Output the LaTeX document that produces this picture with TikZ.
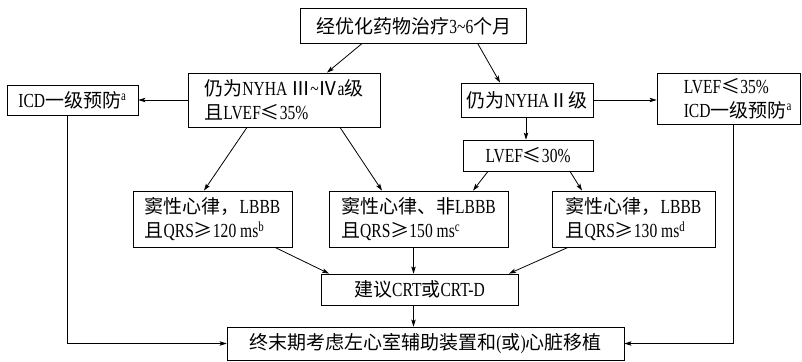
\documentclass[tikz,border=0pt]{standalone}
\usepackage{fontspec}
\setmainfont{Liberation Serif}[FakeStretch=0.78,Scale=1.05]
\newfontfamily\cjk{Noto Sans CJK SC}
\newcommand\zh[1]{{\cjk #1}}
\usetikzlibrary{arrows.meta}
\begin{document}
\begin{tikzpicture}[x=1pt,y={(0pt,-1pt)},
  txt/.style={inner sep=0pt, align=left, font=\fontsize{19pt}{24pt}\selectfont},
  box/.style={txt, draw, line width=0.8pt},
  arr/.style={line width=0.8pt, -{Stealth[length=7pt,width=4.5pt,inset=1.5pt]}},
  ln/.style={line width=0.8pt}]
\useasboundingbox (0,0) rectangle (802,361);
\node[box, minimum width=226pt, minimum height=35pt] (top) at (413.8,25.8)
  {\zh{经优化药物治疗}3\textasciitilde6\zh{个月}};
\node[box, minimum width=192pt, minimum height=54pt] (n3) at (284,100)
  {\zh{仍为}NYHA \zh{Ⅲ}\textasciitilde\zh{Ⅳ}a\zh{级}\\\zh{且}LVEF\zh{≤}35\%};
\node[box, minimum width=131pt, minimum height=30pt] (icdL) at (72.5,100)
  {ICD\zh{一级预防}\textsuperscript{a}};
\node[box, minimum width=132pt, minimum height=34pt] (n2) at (527,100)
  {\zh{仍为}NYHA\zh{Ⅱ}\zh{级}};
\node[box, minimum width=143pt, minimum height=51pt] (right) at (728.5,98.5) {};
\node[txt, anchor=west] (rightTxt) at ([xshift=27pt]right.west)
  {LVEF\zh{≤}35\%\\ICD\zh{一级预防}\textsuperscript{a}};
\node[box, minimum width=130pt, minimum height=31pt] (lv30) at (528,155.5)
  {LVEF\zh{≤}30\%};
\node[box, minimum width=159pt, minimum height=56pt] (bL) at (212.5,219)
  {\zh{窦性心律，}LBBB\\\zh{且}QRS\zh{≥}120 ms\textsuperscript{b}};
\node[box, minimum width=179pt, minimum height=56pt] (bM) at (418.5,219)
  {\zh{窦性心律、非}LBBB\\\zh{且}QRS\zh{≥}150 ms\textsuperscript{c}};
\node[box, minimum width=163pt, minimum height=56pt] (bR) at (633.5,219)
  {\zh{窦性心律，}LBBB\\\zh{且}QRS\zh{≥}130 ms\textsuperscript{d}};
\node[box, minimum width=197pt, minimum height=31pt] (crt) at (419.5,289.5)
  {\zh{建议}CRT\zh{或}CRT-D};
\node[box, minimum width=397pt, minimum height=33pt] (end) at (425.5,343.5)
  {\zh{终末期考虑左心室辅助装置和}(\zh{或})\zh{心脏移植}};
% arrows
\draw[arr] ([xshift=-52pt]top.south) -- ([xshift=43pt]n3.north);
\draw[arr] ([xshift=64pt]top.south) -- ([xshift=-27pt]n2.north);
\draw[arr] (n3.west) -- (icdL.east);
\draw[arr] (n2.east) -- (n2.east -| right.west);
\draw[arr] ([xshift=-1pt]n2.south) -- ([xshift=-1pt]n2.south |- lv30.north);
\draw[arr] ([xshift=-37pt]n3.south) -- ([xshift=-8.5pt]bL.north);
\draw[arr] ([xshift=56pt]n3.south) -- ([xshift=-36.5pt]bM.north);
\draw[arr] ([xshift=-40pt]lv30.south) -- ([xshift=54.5pt]bM.north);
\draw[arr] ([xshift=42pt]lv30.south) -- ([xshift=-51.5pt]bR.north);
\draw[arr] ([xshift=62.5pt]bL.south) -- ([xshift=-90.5pt]crt.north);
\draw[arr] ([xshift=-5pt]bM.south) -- ([xshift=-5pt]bM.south |- crt.north);
\draw[arr] ([xshift=-65.5pt]bR.south) -- ([xshift=89.5pt]crt.north);
\draw[arr] ([xshift=-6pt]crt.south) -- ([xshift=-6pt]crt.south |- end.north);
\draw[arr] ([xshift=-5pt]icdL.south) |- (end.west);
\draw[arr] ([xshift=4.5pt]right.south) |- (end.east);
\end{tikzpicture}
\end{document}
